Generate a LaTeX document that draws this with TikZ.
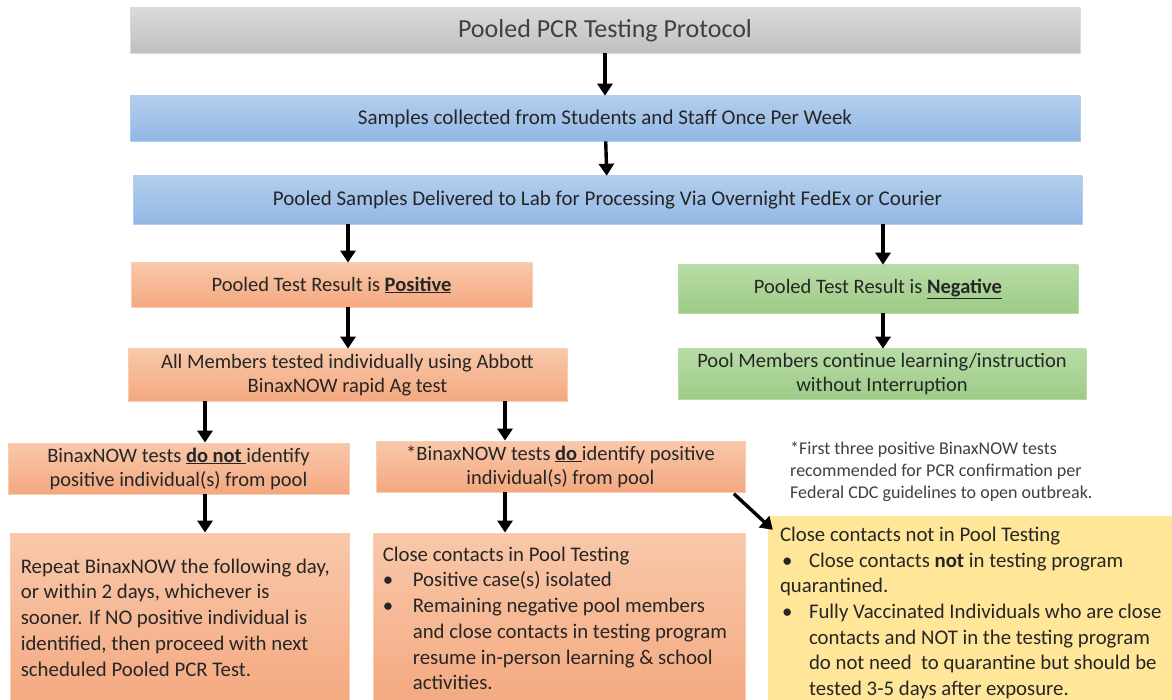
\documentclass[tikz,border=0pt]{standalone}
\usepackage{fontspec}
\setmainfont{Carlito}
\usetikzlibrary{arrows.meta,calc}
\definecolor{txt}{HTML}{262626}
\definecolor{grayT}{HTML}{DADADA}\definecolor{grayB}{HTML}{C0C0C0}
\definecolor{blueT}{HTML}{B2CEEE}\definecolor{blueB}{HTML}{93B7E4}
\definecolor{orT}{HTML}{F8C8AA}\definecolor{orB}{HTML}{F4A87F}
\definecolor{orE}{HTML}{F9CDB2}
\definecolor{grT}{HTML}{B8DBA6}\definecolor{grB}{HTML}{9DCC86}
\definecolor{yel}{HTML}{FFE699}
\definecolor{note}{HTML}{404040}
\begin{document}
\begin{tikzpicture}[x=1pt,y=-1pt,
  box/.style={rectangle,inner sep=0pt,align=center,text=txt},
  grayb/.style={box,top color=grayT,bottom color=grayB,draw=grayT,line width=0.6pt},
  blueb/.style={box,top color=blueT,bottom color=blueB,draw=blueT,line width=0.6pt},
  orb/.style={box,top color=orT,bottom color=orB,draw=orE,line width=0.8pt},
  grb/.style={box,top color=grT,bottom color=grB,draw=grT,line width=0.6pt},
  yelb/.style={box,fill=yel},
  arr/.style={line width=3.4pt,-{Triangle[width=15pt,length=12pt]}},
  mid/.style={font=\fontsize{20.5}{24}\selectfont},
  big/.style={font=\fontsize{20.8}{25.7}\selectfont},
  txtl/.style={inner sep=0pt,align=left,text=txt,anchor=north west}]
\useasboundingbox (0,0) rectangle (1172,700);
\fill[white] (0,0) rectangle (1172,700);
\coordinate (ax1) at (348,0);
\coordinate (ax2) at (883,0);
\coordinate (ax3) at (205,0);
\coordinate (ax4) at (505,0);

\node[grayb,minimum width=950,minimum height=45,font=\fontsize{26}{30}\selectfont,text=note] (title) at (605,30.5) {Pooled PCR Testing Protocol};
\node[blueb,minimum width=950,minimum height=45,font=\fontsize{21}{25}\selectfont] (samp) at (605,118.5) {Samples collected from Students and Staff Once Per Week};
\node[blueb,minimum width=949,minimum height=48,font=\fontsize{21}{25}\selectfont] (lab) at (607.5,200) {Pooled Samples Delivered to Lab for Processing Via Overnight FedEx or Courier};

\node[orb,minimum width=401,minimum height=44,mid] (pos) at (331.5,285) {Pooled Test Result is \underline{\textbf{Positive}}};
\node[grb,minimum width=400,minimum height=48,mid] (neg) at (878,289) {Pooled Test Result is \underline{\textbf{Negative}}};

\node[orb,minimum width=439,minimum height=52,mid] (all) at (347.5,375) {All Members tested individually using Abbott\\BinaxNOW rapid Ag test};
\node[grb,minimum width=408,minimum height=50,mid] (poolm) at (882,374) {Pool Members continue learning/instruction\\without Interruption};

\node[orb,minimum width=341,minimum height=51,mid] (donot) at (178.5,468.5) {BinaxNOW tests \underline{\textbf{do not }}identify\\positive individual(s) from pool};
\node[orb,minimum width=369,minimum height=51,mid] (do) at (560.5,466.5) {*BinaxNOW tests \underline{\textbf{do }}identify positive\\individual(s) from pool};

\node[orb,minimum width=339,minimum height=177] (rep) at (179.5,621.5) {};
\node[txtl,big] (repT) at ($(rep.north west)+(11,26)$) {Repeat BinaxNOW the following day,\\or within 2 days, whichever is\\sooner. If NO positive individual is\\identified, then proceed with next\\scheduled Pooled PCR Test.};

\node[orb,minimum width=372,minimum height=177] (close) at (559,621.5) {};
\node[txtl,big] (closeT) at ($(close.north west)+(10,14)$) {Close contacts in Pool Testing\\
\makebox[30pt][l]{\hspace{0pt}•}Positive case(s) isolated\\
\makebox[30pt][l]{\hspace{0pt}•}Remaining negative pool members\\
\hspace*{30pt}and close contacts in testing program\\
\hspace*{30pt}resume in-person learning \& school\\
\hspace*{30pt}activities.};

\node[txtl,font=\fontsize{18}{22}\selectfont,text=note] (noteT) at (790,442) {*First three positive BinaxNOW tests\\recommended for PCR confirmation per\\Federal CDC guidelines to open outbreak.};

\node[yelb,minimum width=410,minimum height=190] (yelw) at (973,611) {};
\node[txtl,big] (yelT) at ($(yelw.north west)+(12,11)$) {Close contacts not in Pool Testing\\
\makebox[29pt][l]{\hspace{2pt}•}Close contacts \textbf{not} in testing program\\
quarantined.\\
\makebox[29pt][l]{\hspace{2pt}•}Fully Vaccinated Individuals who are close\\
\hspace*{29pt}contacts and NOT in the testing program\\
\hspace*{29pt}do not need\ \ to quarantine but should be\\
\hspace*{29pt}tested 3-5 days after exposure.};

\draw[arr] (title) -- (samp);
\draw[arr] (samp) -- (lab);
\draw[arr] (lab.south -| ax1) -- (pos.north -| ax1);
\draw[arr] (lab.south -| ax2) -- (neg.north -| ax2);
\draw[arr] (pos.south -| ax1) -- (all.north -| ax1);
\draw[arr] (neg.south -| ax2) -- (poolm.north -| ax2);
\draw[arr] (all.south -| ax3) -- (donot.north -| ax3);
\draw[arr] (all.south -| ax4) -- (do.north -| ax4);
\draw[arr] (donot.south -| ax3) -- (rep.north -| ax3);
\draw[arr] (do.south -| ax4) -- (close.north -| ax4);
\draw[arr,shorten <=2pt] ($(do.south east)+(-13,0)$) -- ($(yelw.north west)+(5,14)$);
\end{tikzpicture}
\end{document}
